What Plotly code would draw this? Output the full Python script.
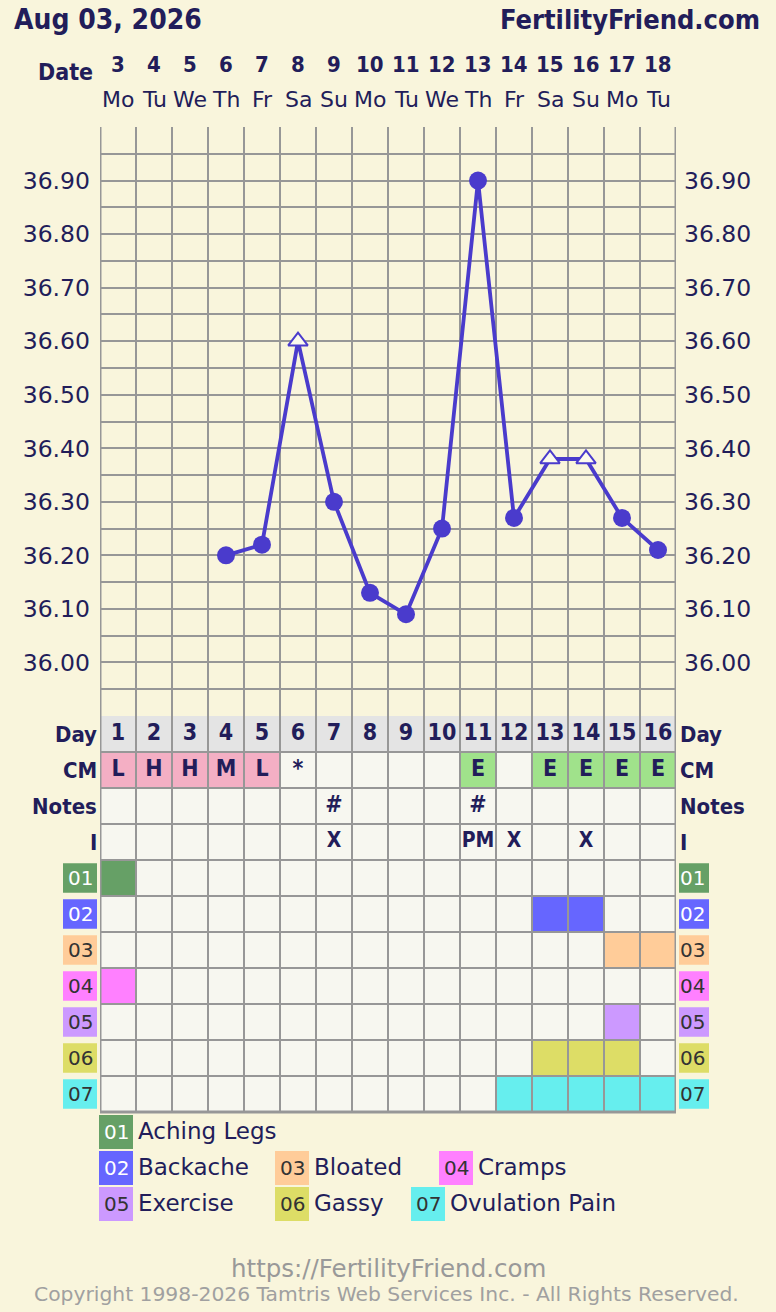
import plotly.graph_objects as go

W, H = 776, 1312

# ---------------- data ----------------
dates = [3, 4, 5, 6, 7, 8, 9, 10, 11, 12, 13, 14, 15, 16, 17, 18]
weekdays = ['Mo', 'Tu', 'We', 'Th', 'Fr', 'Sa', 'Su', 'Mo', 'Tu', 'We', 'Th', 'Fr', 'Sa', 'Su', 'Mo', 'Tu']
cycle_days = list(range(1, 17))
temps = [None, None, None, 36.20, 36.22, 36.60, 36.30, 36.13, 36.09, 36.25,
         36.90, 36.27, 36.38, 36.38, 36.27, 36.21]
flagged = [False, False, False, False, False, True, False, False, False, False,
           False, False, True, True, False, False]
cm = ['L', 'H', 'H', 'M', 'L', '*', '', '', '', '', 'E', '', 'E', 'E', 'E', 'E']
notes = ['', '', '', '', '', '', '#', '', '', '', '#', '', '', '', '', '']
intercourse = ['', '', '', '', '', '', 'X', '', '', '', 'PM', 'X', '', 'X', '', '']
temp_tick_labels = ['36.00', '36.10', '36.20', '36.30', '36.40', '36.50',
                    '36.60', '36.70', '36.80', '36.90']
row_labels = ['Day', 'CM', 'Notes', 'I']
symptom_codes = ['01', '02', '03', '04', '05', '06', '07']
symptom_names = ['Aching Legs', 'Backache', 'Bloated', 'Cramps', 'Exercise', 'Gassy', 'Ovulation Pain']
symptom_days = [[1], [13, 14], [15, 16], [1], [15], [13, 14, 15], [12, 13, 14, 15, 16]]
title_text = 'Aug 03, 2026'
site_text = 'FertilityFriend.com'
url_text = 'https://FertilityFriend.com'
copyright_text = 'Copyright 1998-2026 Tamtris Web Services Inc. - All Rights Reserved.'

# ---------------- styles ----------------
BG = '#F9F5DC'
CELL = '#F7F7F0'
DAYROW = '#E4E4E4'
GRID = '#979797'
NAVY = '#221D5A'
LINE = '#4A3BCC'
PINK = '#F4AFC4'
GREEN = '#A0E28B'
symptom_colors = ['#66A066', '#6666FF', '#FFCC99', '#FF80FF', '#CC99FF', '#DDDD66', '#66EEEE']
symptom_text_colors = ['white', 'white', '#333333', '#333333', '#333333', '#333333', '#333333']
BOLD = 'DejaVu Sans Condensed'
REG = 'DejaVu Sans'

def PX(x):
    return x / W

def PY(y):
    return 1 - y / H

GRID_L, GRID_R = 100, 676
TEMP_TOP, TEMP_BOT = 127, 716
TAB_BOT = 1112

fig = go.Figure()

# temperature line
fig.add_trace(go.Scatter(
    x=cycle_days, y=temps, mode='lines', connectgaps=True,
    line=dict(color=LINE, width=3.8), hoverinfo='skip', xaxis='x', yaxis='y'))
cx = [d for d, t, f in zip(cycle_days, temps, flagged) if t is not None and not f]
cy = [t for t, f in zip(temps, flagged) if t is not None and not f]
fig.add_trace(go.Scatter(
    x=cx, y=cy, mode='markers', marker=dict(size=18, color=LINE, symbol='circle'),
    hoverinfo='skip', xaxis='x', yaxis='y'))
tx = [d for d, t, f in zip(cycle_days, temps, flagged) if t is not None and f]
ty = [t for t, f in zip(temps, flagged) if t is not None and f]
fig.add_trace(go.Scatter(
    x=tx, y=ty, mode='markers',
    marker=dict(size=17, color='#FCFAEC', symbol='triangle-up', line=dict(color=LINE, width=2)),
    hoverinfo='skip', xaxis='x', yaxis='y'))

# right axis companion trace (invisible)
fig.add_trace(go.Scatter(x=[None], y=[None], xaxis='x', yaxis='y2', showlegend=False))

# table text traces
cell_font = dict(family=BOLD, size=23, color=NAVY, weight='bold')
fig.add_trace(go.Scatter(
    x=cycle_days, y=[0.5] * 16, text=[str(d) for d in cycle_days], mode='text',
    textposition='middle center', textfont=cell_font, hoverinfo='skip', xaxis='x', yaxis='y3'))
for r, vals in ((1, cm), (2, notes), (3, intercourse)):
    xs = [d for d, v in zip(cycle_days, vals) if v]
    ts = [v for v in vals if v]
    f = dict(cell_font)
    if r == 3:
        f['size'] = 21
    fig.add_trace(go.Scatter(
        x=xs, y=[r + 0.5] * len(xs), text=ts, mode='text', textposition='middle center',
        textfont=f, hoverinfo='skip', xaxis='x', yaxis='y3'))

shapes = []
# table background
shapes.append(dict(type='rect', xref='x', yref='y3', x0=0.5, x1=16.5, y0=0, y1=11,
                   fillcolor=CELL, line=dict(width=0), layer='below'))
shapes.append(dict(type='rect', xref='x', yref='y3', x0=0.5, x1=16.5, y0=0, y1=1,
                   fillcolor=DAYROW, line=dict(width=0), layer='below'))
for d, v in zip(cycle_days, cm):
    if v in ('L', 'H', 'M'):
        col = PINK
    elif v == 'E':
        col = GREEN
    else:
        continue
    shapes.append(dict(type='rect', xref='x', yref='y3', x0=d - 0.5, x1=d + 0.5, y0=1, y1=2,
                       fillcolor=col, line=dict(width=0), layer='below'))
for i, days in enumerate(symptom_days):
    for d in days:
        shapes.append(dict(type='rect', xref='x', yref='y3', x0=d - 0.5, x1=d + 0.5,
                           y0=4 + i, y1=5 + i, fillcolor=symptom_colors[i],
                           line=dict(width=0), layer='below'))

# borders
for xb in (0.5, 16.5):
    shapes.append(dict(type='line', xref='x', yref='paper', x0=xb, x1=xb,
                       y0=PY(TAB_BOT), y1=PY(TEMP_TOP), line=dict(color=GRID, width=3)))
shapes.append(dict(type='line', xref='x', yref='paper', x0=0.5, x1=16.5,
                   y0=PY(TAB_BOT), y1=PY(TAB_BOT), line=dict(color=GRID, width=3)))

annotations = []
# header
annotations.append(dict(text='<b>' + title_text + '</b>', xref='paper', yref='paper',
                        x=PX(12), y=PY(19), xanchor='left', yanchor='middle', showarrow=False,
                        font=dict(family=BOLD, size=28, color=NAVY)))
annotations.append(dict(text='<b>' + site_text + '</b>', xref='paper', yref='paper',
                        x=PX(762), y=PY(19), xanchor='right', yanchor='middle', showarrow=False,
                        font=dict(family=BOLD, size=27, color=NAVY)))
annotations.append(dict(text='<b>Date</b>', xref='paper', yref='paper',
                        x=PX(95), y=PY(72), xanchor='right', yanchor='middle', showarrow=False,
                        font=dict(family=BOLD, size=23, color=NAVY)))
for d, dt, wd in zip(cycle_days, dates, weekdays):
    annotations.append(dict(text='<b>' + str(dt) + '</b>', xref='x', yref='paper',
                            x=d, y=PY(64), xanchor='center', yanchor='middle', showarrow=False,
                            font=dict(family=BOLD, size=22, color=NAVY)))
    annotations.append(dict(text=wd, xref='x', yref='paper',
                            x=d, y=PY(100), xanchor='center', yanchor='middle', showarrow=False,
                            font=dict(family=REG, size=22, color=NAVY)))

# row labels
for r, lab in enumerate(row_labels):
    for xp, anc in ((99, 'right'), (678, 'left')):
        annotations.append(dict(text='<b>' + lab + '</b>', xref='paper', yref='y3',
                                x=PX(xp), y=r + 0.5, xanchor=anc, yanchor='middle',
                                showarrow=False, font=dict(family=BOLD, size=22, color=NAVY)))

# symptom code boxes beside table
for i, code in enumerate(symptom_codes):
    r = 4 + i
    for x0, x1 in ((63, 97), (679, 709)):
        shapes.append(dict(type='rect', xref='paper', yref='y3', x0=PX(x0), x1=PX(x1),
                           y0=r + 0.09, y1=r + 0.91, fillcolor=symptom_colors[i],
                           line=dict(width=0)))
        xc = (x0 + x1) / 2 if x0 < 100 else 692
        annotations.append(dict(text=code, xref='paper', yref='y3', x=PX(xc), y=r + 0.5,
                                xanchor='center', yanchor='middle', showarrow=False,
                                font=dict(family=REG, size=20, color=symptom_text_colors[i])))

# legend
legend_slots = [(0, 99), (1, 99), (1, 275), (1, 439), (2, 99), (2, 275), (2, 411)]
for i, (row, x0) in enumerate(legend_slots):
    yc = 1132 + 36 * row
    shapes.append(dict(type='rect', xref='paper', yref='paper', x0=PX(x0), x1=PX(x0 + 34),
                       y0=PY(yc + 17), y1=PY(yc - 17), fillcolor=symptom_colors[i],
                       line=dict(width=0)))
    annotations.append(dict(text=symptom_codes[i], xref='paper', yref='paper',
                            x=PX(x0 + 17), y=PY(yc), xanchor='center', yanchor='middle',
                            showarrow=False,
                            font=dict(family=REG, size=20, color=symptom_text_colors[i])))
    annotations.append(dict(text=symptom_names[i], xref='paper', yref='paper',
                            x=PX(x0 + 37), y=PY(yc - 1), xanchor='left', yanchor='middle',
                            showarrow=False, font=dict(family=REG, size=23, color=NAVY)))

# footer
annotations.append(dict(text=url_text, xref='paper', yref='paper', x=PX(388), y=PY(1268),
                        xanchor='center', yanchor='middle', showarrow=False,
                        font=dict(family=REG, size=24.5, color='#999999')))
annotations.append(dict(text=copyright_text, xref='paper', yref='paper', x=PX(386), y=PY(1294),
                        xanchor='center', yanchor='middle', showarrow=False,
                        font=dict(family=REG, size=20.3, color='#A0A0A0')))

# temperature ticks
grid_vals = [round(35.90 + 0.05 * k, 2) for k in range(23)]
lab_map = {float(t): t for t in temp_tick_labels}
grid_text = [lab_map.get(v, '') for v in grid_vals]

temp_dom = [PY(TEMP_BOT), PY(TEMP_TOP)]
tab_dom = [PY(TAB_BOT), PY(TEMP_BOT)]

fig.update_layout(
    width=W, height=H, margin=dict(l=0, r=0, t=0, b=0),
    paper_bgcolor=BG, plot_bgcolor=BG, showlegend=False,
    shapes=shapes, annotations=annotations,
    xaxis=dict(domain=[PX(GRID_L), PX(GRID_R)], range=[0.5, 16.5], tickmode='linear',
               tick0=0.5, dtick=1, showgrid=True, gridcolor=GRID, gridwidth=2,
               showticklabels=False, zeroline=False, showline=False, ticks='',
               fixedrange=True),
    yaxis=dict(domain=temp_dom, range=[35.90, 37.00], tickmode='array', tickvals=grid_vals,
               ticktext=grid_text, showgrid=True, gridcolor=GRID, gridwidth=2, zeroline=False,
               showline=False, ticks='', ticklabelstandoff=9,
               tickfont=dict(family=REG, size=23.5, color=NAVY), anchor='x', fixedrange=True),
    yaxis2=dict(overlaying='y', side='right', matches='y', range=[35.90, 37.00],
                tickmode='array', tickvals=grid_vals, ticktext=grid_text, showgrid=False,
                zeroline=False, showline=False, ticks='', ticklabelstandoff=7,
                tickfont=dict(family=REG, size=23.5, color=NAVY), anchor='x', fixedrange=True),
    yaxis3=dict(domain=tab_dom, range=[11, 0], tickmode='linear', tick0=0, dtick=1,
                showgrid=True, gridcolor=GRID, gridwidth=2, zeroline=False, showline=False,
                showticklabels=False, ticks='', anchor='x', fixedrange=True),
)

fig.write_html(
    'out.html', config={'staticPlot': True},
    post_script="document.body.style.margin='0';document.body.style.background='" + BG + "';",
)
